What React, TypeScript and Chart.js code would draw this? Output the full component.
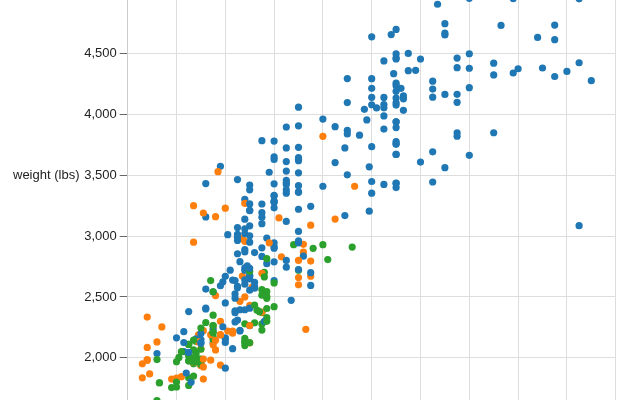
import React, { useEffect, useRef } from "react";
import { Chart, registerables } from "chart.js";

Chart.register(...registerables);

// Cars dataset: horsepower, weight (lbs) and origin (0 = USA, 1 = Europe, 2 = Japan), in data order
const HORSEPOWER: number[] = [
  130,165,150,150,140,198,220,215,225,190,115,165,153,175,175,170,160,140,150,225,
  95,95,97,85,88,46,87,90,95,113,90,215,200,210,193,88,90,95,100,105,
  100,88,100,165,175,153,150,180,170,175,110,72,100,88,86,90,70,76,65,69,
  60,70,48,95,80,54,90,86,165,175,150,153,150,208,155,160,190,97,150,130,
  140,150,112,76,87,69,86,92,97,80,88,175,150,145,137,150,198,150,158,150,
  215,225,175,105,100,100,88,95,46,150,167,170,180,100,88,72,94,90,85,107,
  90,145,230,49,75,91,112,150,110,122,180,95,100,100,67,80,65,75,100,110,
  105,140,150,150,140,150,83,67,78,52,61,75,75,75,97,93,67,95,105,72,
  72,170,145,150,148,110,105,110,95,110,110,129,75,83,100,78,96,71,97,97,
  70,90,95,88,98,115,53,86,81,92,79,83,140,150,120,152,100,105,81,90,
  52,60,70,53,100,78,110,95,71,70,75,72,102,150,88,108,120,180,145,130,
  150,68,80,58,96,70,145,110,145,130,110,105,100,98,180,170,190,149,78,88,
  75,89,63,83,67,78,97,110,110,48,66,52,70,60,110,140,139,105,95,85,
  88,100,90,105,85,110,120,145,165,139,140,68,95,97,75,95,105,85,97,103,
  125,115,133,71,68,115,85,88,90,110,130,129,138,135,155,142,125,150,71,65,
  80,80,77,125,71,90,70,70,65,69,90,115,115,90,76,60,70,65,90,88,
  90,90,78,90,75,92,75,65,105,65,48,48,67,67,67,67,62,132,100,88,
  72,84,84,92,110,84,58,64,60,67,65,62,68,63,65,65,74,75,75,100,
  74,80,76,116,120,110,105,88,85,88,88,88,85,84,90,92,74,68,68,63,
  70,88,75,70,67,67,67,110,85,92,112,96,84,90,86,52,84,79,82,110
];

const WEIGHT: number[] = [
  3504,3693,3436,3433,3449,4341,4354,4312,4425,3850,3090,4142,4034,4166,3850,3563,3609,3353,3761,3086,
  2372,2833,2774,2587,2130,1835,2672,2430,2375,2234,2648,4615,4376,4382,4732,2130,2264,2228,2634,3439,
  3329,3302,3288,4209,4464,4154,4096,4955,4746,5140,2962,2408,3282,3139,2220,2123,2074,2065,1773,1613,
  1834,1955,1978,2278,2126,2254,2408,2226,4274,4385,4135,4129,3672,4633,4502,4456,4422,2330,3892,4098,
  4294,4077,2933,2511,2979,2189,2395,2288,2506,2164,2100,4100,3672,3988,4042,3777,4952,4464,4363,4237,
  4735,4951,3821,3121,3278,2945,3021,2904,1950,4997,4906,4654,4499,2789,2279,2401,2379,2124,2310,2472,
  2265,4082,4278,1867,2158,2582,2868,3399,2660,2807,3664,3102,2901,3336,1950,2451,1836,2542,3781,3632,
  3613,4141,4699,4457,4638,4257,2219,1963,2300,1649,2003,2125,2108,2246,2489,2391,2000,3264,3459,3432,
  3158,4668,4440,4498,4657,3907,3897,3730,3785,3039,3221,3169,2171,2639,2914,2592,2702,2223,2545,2984,
  1937,3211,2694,2957,2945,2671,1795,2464,2220,2572,2255,2202,4215,4190,3962,4215,3233,3353,3012,3085,
  2035,2164,1937,1795,3651,3574,3645,3193,1825,1990,2155,2565,3150,3940,3270,2930,3820,4380,4055,3870,
  3755,2045,2155,1825,2300,1945,3880,4060,4140,4295,3520,3425,3630,3525,4220,4165,4325,4335,1940,2740,
  2265,2755,2051,2075,1985,2190,2815,2600,2720,1985,1800,1985,2070,1800,3365,3735,3570,3535,3155,2965,
  2720,3430,3210,3380,3070,3620,3410,3425,3445,3205,4080,2155,2560,2300,2230,2515,2745,2855,2405,2830,
  3140,2795,3410,1990,2135,3245,2990,2890,3265,3360,3840,3725,3955,3830,4360,4054,3605,3940,1925,1975,
  1915,2670,3530,3900,3190,3420,2200,2150,2020,2130,2670,2595,2700,2556,2144,1968,2120,2019,2678,2870,
  3003,3381,2188,2711,2542,2434,2265,2110,2800,2110,2085,2335,2950,3250,1850,2145,1845,2910,2420,2500,
  2290,2490,2635,2620,2725,2385,1755,1875,1760,2065,1975,2050,1985,2215,2045,2380,2190,2210,2350,2615,
  2635,3230,3160,2900,2930,3415,3725,3060,3465,2605,2640,2395,2575,2525,2735,2865,1980,2025,1970,2125,
  2125,2160,2205,2245,1965,1965,1995,2945,3015,2585,2835,2665,2370,2950,2790,2130,2295,2625,2720,2800
];

const ORIGIN: number[] = [
  0,0,0,0,0,0,0,0,0,0,1,0,0,0,0,0,0,0,0,0,
  2,0,0,0,2,1,1,1,1,1,0,0,0,0,0,2,0,2,0,0,
  0,0,0,0,0,0,0,0,0,0,0,0,0,0,0,1,1,1,2,2,
  1,0,1,2,0,1,0,0,0,0,0,0,0,0,0,0,0,2,0,0,
  0,0,1,1,1,1,0,2,2,0,2,0,0,0,0,0,0,0,0,0,
  0,0,0,0,0,0,0,0,1,0,0,0,0,0,2,0,2,2,0,0,
  1,0,0,1,1,1,1,0,1,2,0,0,0,0,2,0,2,0,0,0,
  0,0,0,0,0,0,1,1,1,2,2,0,1,1,2,2,1,0,0,0,
  0,0,0,0,0,0,0,0,0,0,0,0,2,0,0,0,2,1,2,0,
  1,0,1,1,1,1,2,1,1,0,0,1,0,0,0,0,0,0,0,0,
  0,0,1,2,0,0,0,0,1,2,2,0,1,0,1,2,1,0,0,0,
  0,2,0,1,0,2,0,0,0,0,0,0,0,0,0,0,0,0,1,0,
  2,0,0,0,2,1,2,1,2,1,0,2,2,2,0,0,0,0,0,0,
  0,0,0,0,0,0,0,0,0,0,0,0,2,2,0,2,0,0,2,1,
  1,1,1,1,2,0,0,0,0,0,0,0,0,0,0,0,0,0,1,2,
  0,0,1,0,1,0,0,0,2,1,0,0,0,0,1,2,0,2,0,0,
  0,0,1,2,2,2,2,2,0,2,1,1,1,1,2,2,1,2,2,1,
  2,0,0,0,0,0,2,0,2,2,2,2,2,0,0,0,1,2,2,2,
  2,1,1,2,2,0,0,0,0,0,0,0,0,0,0,0,1,2,2,0,
  0,2,2,2,2,2,2,0,0,0,0,2,0,0,0,1,0,0,0,1
];

const ORIGIN_COLORS: string[] = ["#1f77b4", "#ff7f0e", "#2ca02c"];

const X_MIN = 40;
const X_MAX = 240;
const X_TICKS: number[] = [40, 60, 80, 100, 120, 140, 160, 180, 200, 220, 240];
const Y_MIN = 1653;
const Y_MAX = 4941;
const Y_TICKS: number[] = [2000, 2500, 3000, 3500, 4000, 4500];
const Y_TITLE = "weight (lbs)";
const FONT_FAMILY = '"Liberation Sans", Arial, Helvetica, sans-serif';

export default function App() {
  const canvasRef = useRef<HTMLCanvasElement | null>(null);

  useEffect(() => {
    const canvas = canvasRef.current;
    if (!canvas) return;
    const n = Math.min(HORSEPOWER.length, WEIGHT.length, ORIGIN.length);
    const points = [];
    const colors: string[] = [];
    for (let i = 0; i < n; i++) {
      points.push({ x: HORSEPOWER[i], y: WEIGHT[i] });
      colors.push(ORIGIN_COLORS[ORIGIN[i]]);
    }

    const yTitlePlugin = {
      id: "yTitle",
      afterDraw(chart: any) {
        const ctx = chart.ctx;
        const yScale = chart.scales.y;
        ctx.save();
        ctx.font = `13px ${FONT_FAMILY}`;
        ctx.fillStyle = "#222";
        ctx.textAlign = "left";
        ctx.textBaseline = "middle";
        ctx.fillText(Y_TITLE, 13, yScale.getPixelForValue(Y_TICKS[3]));
        ctx.restore();
      },
    };

    const chart = new Chart(canvas, {
      type: "scatter",
      data: {
        datasets: [
          {
            data: points,
            backgroundColor: colors,
            borderWidth: 0,
            pointRadius: 3.6,
            pointHoverRadius: 3.6,
          },
        ],
      },
      options: {
        responsive: true,
        maintainAspectRatio: false,
        animation: false,
        events: [],
        layout: { autoPadding: false, padding: { left: 0, top: 0, right: 24.3, bottom: 0 } },
        plugins: {
          legend: { display: false },
          tooltip: { enabled: false },
          title: { display: false },
        },
        scales: {
          x: {
            type: "linear",
            min: X_MIN,
            max: X_MAX,
            ticks: { display: false },
            grid: { color: "#dddddd", drawTicks: false, lineWidth: 1 },
            border: { display: false },
            afterBuildTicks: (s: any) => {
              s.ticks = X_TICKS.map((v) => ({ value: v }));
            },
            afterFit: (s: any) => {
              s.height = 0;
              s.paddingLeft = 0;
              s.paddingRight = 0;
            },
          },
          y: {
            type: "linear",
            min: Y_MIN,
            max: Y_MAX,
            ticks: {
              padding: 3,
              color: "#222",
              font: { family: FONT_FAMILY, size: 13 },
              callback: (v: any) => Number(v).toLocaleString("en-US"),
            },
            grid: {
              color: "#dddddd",
              tickColor: "#666666",
              tickLength: 8,
              lineWidth: 1,
            },
            border: { display: true, color: "#cccccc" },
            afterBuildTicks: (s: any) => {
              s.ticks = Y_TICKS.map((v) => ({ value: v }));
            },
            afterFit: (s: any) => {
              s.width = 127.7;
              s.paddingTop = 0;
              s.paddingBottom = 0;
            },
          },
        },
      },
      plugins: [yTitlePlugin],
    } as any);

    return () => chart.destroy();
  }, []);

  return (
    <div style={{ position: "fixed", left: 0, top: 0, width: 640, height: 400, background: "#fff" }}>
      <canvas ref={canvasRef} />
    </div>
  );
}
